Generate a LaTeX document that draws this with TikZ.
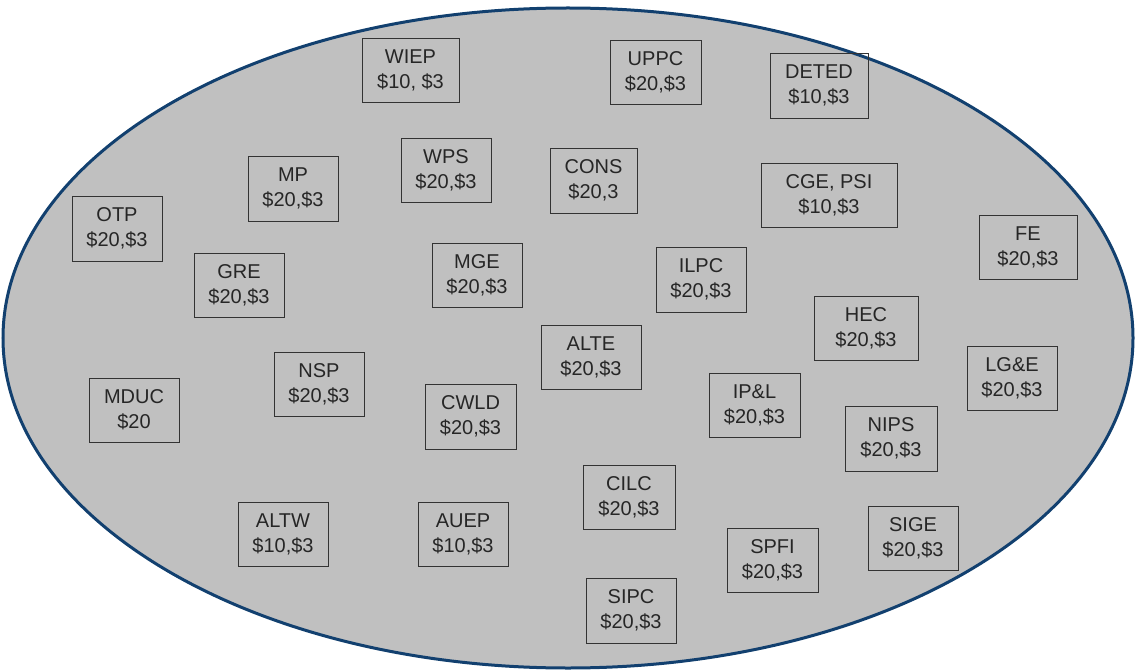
\documentclass[tikz,border=0pt]{standalone}
\usepackage{fontspec}
\setmainfont{Liberation Sans}
\usetikzlibrary{shapes.geometric}
\definecolor{ellfill}{HTML}{C0C0C0}
\definecolor{ellline}{HTML}{12406F}
\definecolor{boxline}{HTML}{333333}
\tikzset{
  firm/.style={draw=boxline, line width=0.9pt, align=center, inner sep=0pt,
    font=\fontsize{20}{25}\selectfont, text=black!85},
}
\newcommand{\firmbox}[6]{%
  \node[firm, minimum width={(#4-#2)*1pt}, minimum height={(#5-#3)*1pt}]
    (#1) at ({(#2+#4)/2}, {(#3+#5)/2}) {#6};}
\begin{document}
\begin{tikzpicture}[x=1pt, y=-1pt]
\useasboundingbox (0,0) rectangle (1135,671);
\node[ellipse, draw=ellline, fill=ellfill, line width=3pt, minimum width=1130pt, minimum height=660pt, inner sep=0pt] (mkt) at (568,338) {};
\firmbox{wiep}{362}{38}{459}{102}{WIEP\\\$10, \$3}
\firmbox{uppc}{610}{40}{701}{104}{UPPC\\\$20,\$3}
\firmbox{deted}{770}{53}{868}{118}{DETED\\\$10,\$3}
\firmbox{wps}{401}{138}{491}{202}{WPS\\\$20,\$3}
\firmbox{cons}{550}{148}{637}{213}{CONS\\\$20,3}
\firmbox{cge}{761}{163}{897}{227}{CGE, PSI\\\$10,\$3}
\firmbox{mp}{248}{156}{338}{221}{MP\\\$20,\$3}
\firmbox{otp}{72}{196}{162}{261}{OTP\\\$20,\$3}
\firmbox{gre}{194}{253}{284}{317}{GRE\\\$20,\$3}
\firmbox{mge}{432}{243}{522}{307}{MGE\\\$20,\$3}
\firmbox{ilpc}{656}{247}{746}{312}{ILPC\\\$20,\$3}
\firmbox{fe}{979}{215}{1077}{279}{FE\\\$20,\$3}
\firmbox{hec}{814}{296}{918}{360}{HEC\\\$20,\$3}
\firmbox{alte}{541}{325}{641}{389}{ALTE\\\$20,\$3}
\firmbox{nsp}{274}{352}{364}{416}{NSP\\\$20,\$3}
\firmbox{mduc}{89}{378}{179}{442}{MDUC\\\$20}
\firmbox{cwld}{425}{384}{516}{449}{CWLD\\\$20,\$3}
\firmbox{ipl}{709}{373}{800}{437}{IP\&L\\\$20,\$3}
\firmbox{lge}{967}{346}{1057}{410}{LG\&E\\\$20,\$3}
\firmbox{nips}{845}{406}{937}{471}{NIPS\\\$20,\$3}
\firmbox{cilc}{583}{465}{675}{529}{CILC\\\$20,\$3}
\firmbox{altw}{238}{502}{328}{566}{ALTW\\\$10,\$3}
\firmbox{auep}{418}{502}{508}{566}{AUEP\\\$10,\$3}
\firmbox{spfi}{727}{528}{818}{592}{SPFI\\\$20,\$3}
\firmbox{sige}{868}{506}{958}{570}{SIGE\\\$20,\$3}
\firmbox{sipc}{586}{578}{676}{643}{SIPC\\\$20,\$3}
\end{tikzpicture}
\end{document}
